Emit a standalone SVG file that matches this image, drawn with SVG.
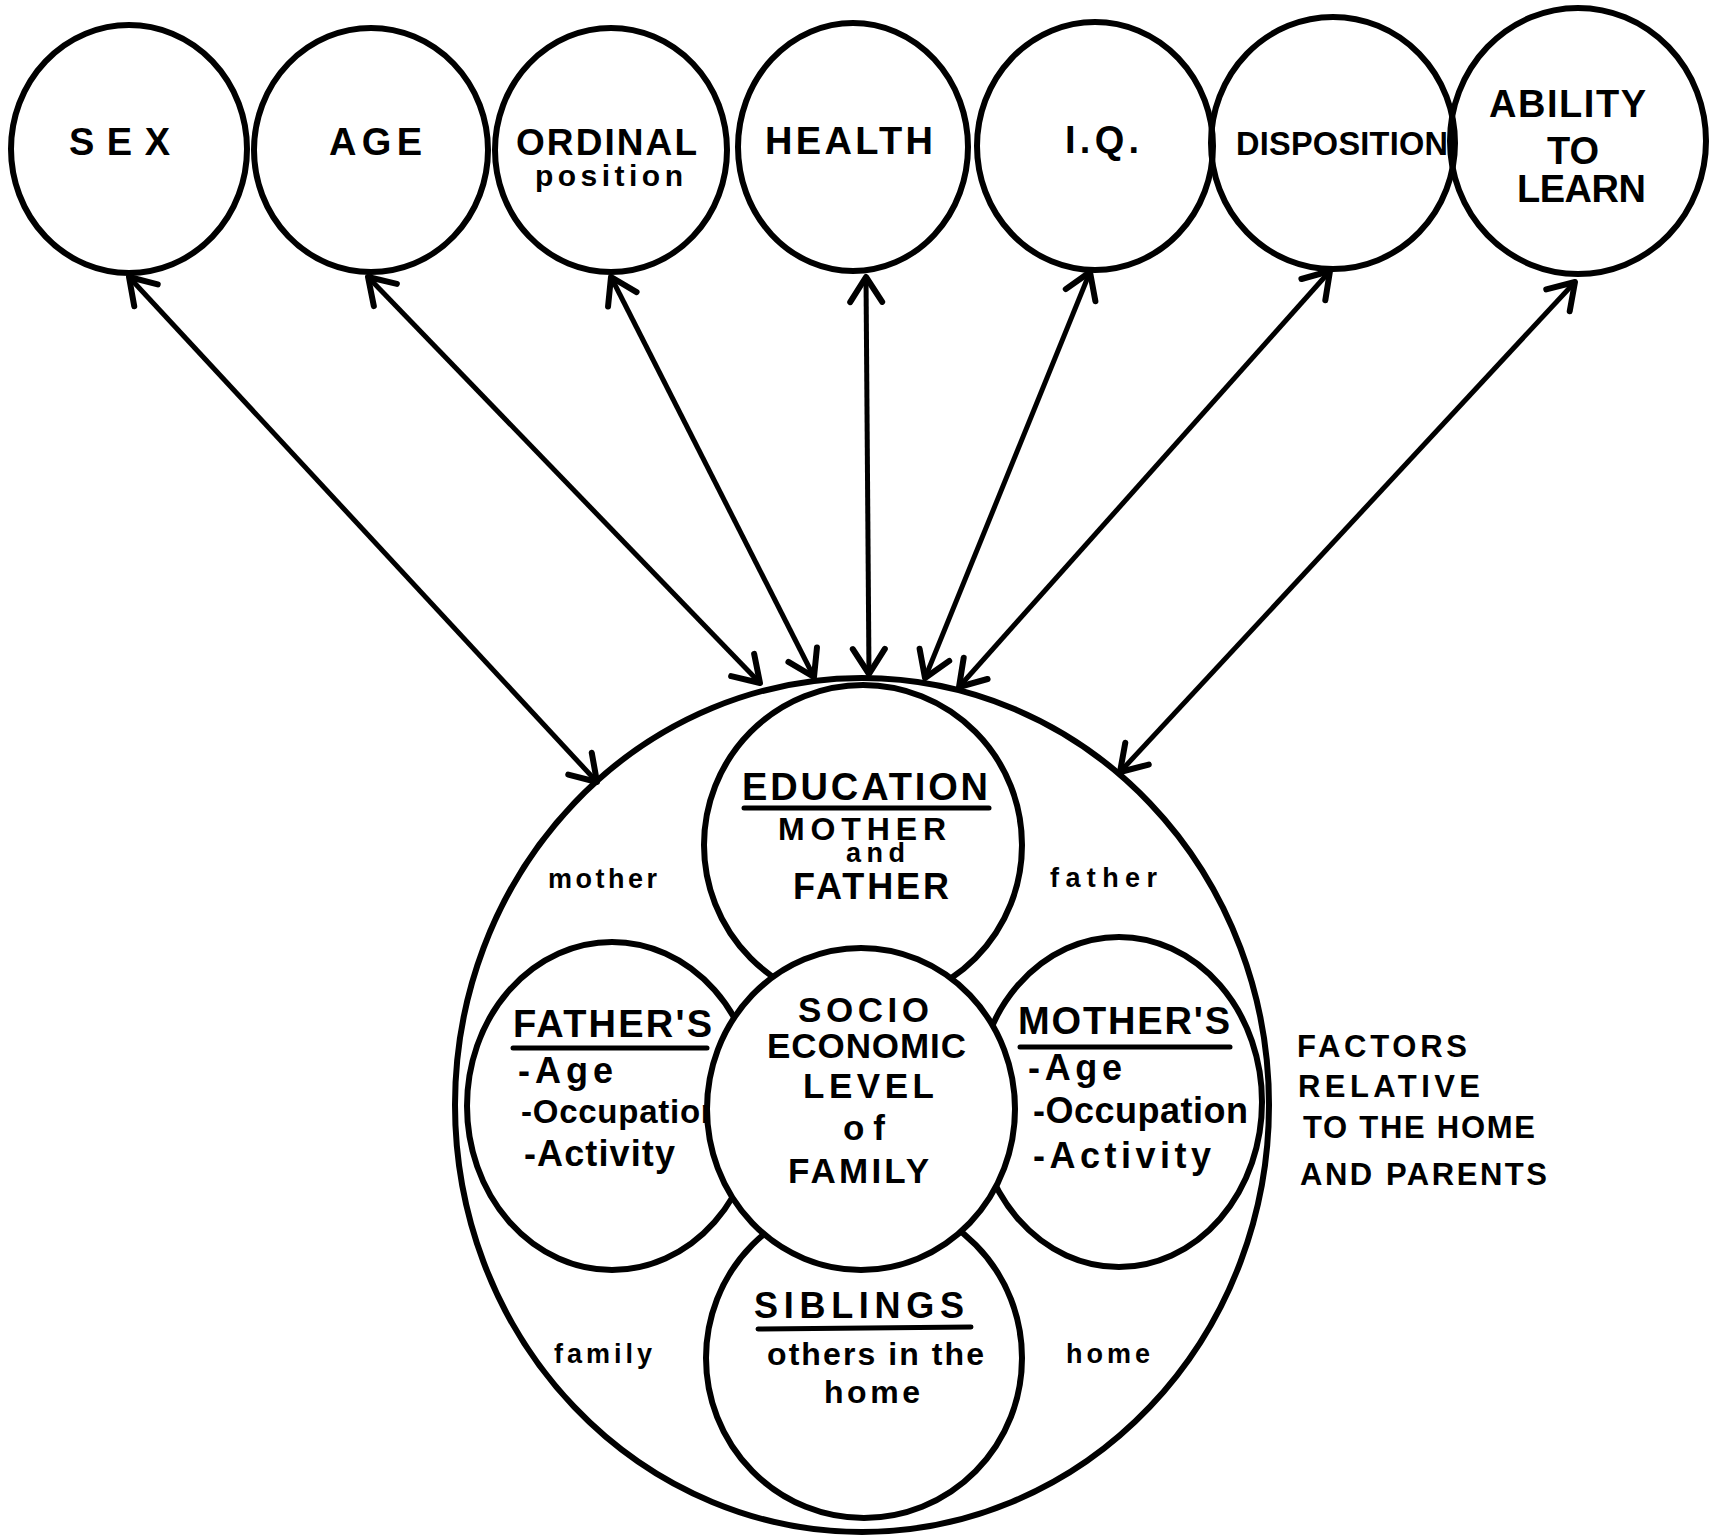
<svg xmlns="http://www.w3.org/2000/svg" width="1714" height="1535" viewBox="0 0 1714 1535">
<style>
.c{fill:none;stroke:#000;stroke-width:6}
.w{fill:#fff;stroke:#000;stroke-width:6}
.t{font-family:"Liberation Sans",Arial,sans-serif;font-weight:bold;fill:#000}
.u{stroke:#000;stroke-width:5;stroke-linecap:round}
.a{fill:none;stroke:#000;stroke-width:5;marker-start:url(#ah);marker-end:url(#ah)}
</style>
<defs>
<marker id="ah" viewBox="0 0 34 40" refX="30" refY="20" markerWidth="34" markerHeight="40" markerUnits="userSpaceOnUse" orient="auto-start-reverse">
<path d="M5,4 L30,20 L5,36" fill="none" stroke="#000" stroke-width="6" stroke-linecap="round" stroke-linejoin="round"/>
</marker>
</defs>
<rect width="1714" height="1535" fill="#fff"/>

<g id="sex">
<ellipse class="c" cx="129" cy="149" rx="118" ry="124"/>
<text class="t" x="69" y="155" font-size="38" textLength="101" lengthAdjust="spacing">SEX</text>
</g>
<g id="age">
<ellipse class="c" cx="371" cy="150" rx="117" ry="122"/>
<text class="t" x="329" y="155" font-size="38" textLength="93" lengthAdjust="spacing">AGE</text>
</g>
<g id="ordinal">
<ellipse class="c" cx="611" cy="150" rx="116" ry="122"/>
<text class="t" x="516" y="155" font-size="37" textLength="181" lengthAdjust="spacing">ORDINAL</text>
<text class="t" x="535" y="186" font-size="30" textLength="148" lengthAdjust="spacing">position</text>
</g>
<g id="health">
<ellipse class="c" cx="853" cy="147" rx="115" ry="124"/>
<text class="t" x="765" y="154" font-size="38" textLength="168" lengthAdjust="spacing">HEALTH</text>
</g>
<g id="iq">
<ellipse class="c" cx="1095" cy="146" rx="118" ry="124"/>
<text class="t" x="1065" y="153" font-size="38" textLength="74" lengthAdjust="spacing">I.Q.</text>
</g>
<g id="disposition">
<ellipse class="c" cx="1333" cy="143" rx="122" ry="126"/>
<text class="t" x="1236" y="155" font-size="32.5" textLength="212" lengthAdjust="spacing">DISPOSITION</text>
</g>
<g id="ability">
<ellipse class="c" cx="1578" cy="141" rx="128" ry="133"/>
<text class="t" x="1489" y="117" font-size="38" textLength="157" lengthAdjust="spacing">ABILITY</text>
<text class="t" x="1547" y="164" font-size="38" textLength="52" lengthAdjust="spacing">TO</text>
<text class="t" x="1517" y="202" font-size="38" textLength="129" lengthAdjust="spacing">LEARN</text>
</g>

<g id="home-parents">
<ellipse class="c" cx="862" cy="1105" rx="407" ry="427"/>
<text class="t" x="548" y="888" font-size="27" textLength="109" lengthAdjust="spacing">mother</text>
<text class="t" x="1050" y="887" font-size="27" textLength="107" lengthAdjust="spacing">father</text>
<text class="t" x="554" y="1363" font-size="27" textLength="98" lengthAdjust="spacing">family</text>
<text class="t" x="1066" y="1363" font-size="27" textLength="84" lengthAdjust="spacing">home</text>
<text class="t" x="1297" y="1057" font-size="31" textLength="170" lengthAdjust="spacing">FACTORS</text>
<text class="t" x="1298" y="1097" font-size="31" textLength="182" lengthAdjust="spacing">RELATIVE</text>
<text class="t" x="1303" y="1138" font-size="31" textLength="232" lengthAdjust="spacing">TO THE HOME</text>
<text class="t" x="1300" y="1185" font-size="31" textLength="247" lengthAdjust="spacing">AND PARENTS</text>
</g>

<g id="education">
<ellipse class="w" cx="863" cy="845" rx="159" ry="160"/>
<text class="t" x="742" y="800" font-size="38" textLength="246" lengthAdjust="spacing">EDUCATION</text>
<line class="u" x1="744" y1="808" x2="989" y2="808"/>
<text class="t" x="778" y="840" font-size="32" textLength="168" lengthAdjust="spacing">MOTHER</text>
<text class="t" x="846" y="862" font-size="27" textLength="59" lengthAdjust="spacing">and</text>
<text class="t" x="793" y="899" font-size="36" textLength="156" lengthAdjust="spacing">FATHER</text>
</g>

<g id="fathers">
<ellipse class="w" cx="612" cy="1106" rx="145" ry="164"/>
<text class="t" x="513" y="1037" font-size="38" textLength="199" lengthAdjust="spacing">FATHER'S</text>
<line class="u" x1="513" y1="1048" x2="707" y2="1048"/>
<text class="t" x="518" y="1083" font-size="36" textLength="95" lengthAdjust="spacing">-Age</text>
<text class="t" x="521" y="1123" font-size="33" textLength="200" lengthAdjust="spacing">-Occupation</text>
<text class="t" x="524" y="1166" font-size="36" textLength="151" lengthAdjust="spacing">-Activity</text>
</g>

<g id="mothers">
<ellipse class="w" cx="1119" cy="1102" rx="143" ry="165"/>
<text class="t" x="1018" y="1034" font-size="38" textLength="212" lengthAdjust="spacing">MOTHER'S</text>
<line class="u" x1="1020" y1="1047" x2="1230" y2="1047"/>
<text class="t" x="1028" y="1080" font-size="36" textLength="94" lengthAdjust="spacing">-Age</text>
<text class="t" x="1033" y="1123" font-size="36" textLength="215" lengthAdjust="spacing">-Occupation</text>
<text class="t" x="1033" y="1168" font-size="36" textLength="178" lengthAdjust="spacing">-Activity</text>
</g>

<g id="siblings">
<ellipse class="w" cx="864" cy="1358" rx="158" ry="160"/>
<text class="t" x="754" y="1318" font-size="36" textLength="210" lengthAdjust="spacing">SIBLINGS</text>
<line class="u" x1="758" y1="1329" x2="971" y2="1327" stroke-width="6"/>
<text class="t" x="767" y="1365" font-size="32" textLength="217" lengthAdjust="spacing">others in the</text>
<text class="t" x="824" y="1403" font-size="32" textLength="96" lengthAdjust="spacing">home</text>
</g>

<g id="socio">
<ellipse class="w" cx="861" cy="1109" rx="154" ry="161"/>
<text class="t" x="798" y="1022" font-size="35" textLength="131" lengthAdjust="spacing">SOCIO</text>
<text class="t" x="767" y="1058" font-size="35" textLength="199" lengthAdjust="spacing">ECONOMIC</text>
<text class="t" x="803" y="1098" font-size="35" textLength="131" lengthAdjust="spacing">LEVEL</text>
<text class="t" x="843" y="1140" font-size="35" textLength="42" lengthAdjust="spacing">of</text>
<text class="t" x="788" y="1183" font-size="35" textLength="141" lengthAdjust="spacing">FAMILY</text>
</g>

<g id="connectors">
<line class="a" x1="129" y1="277" x2="597" y2="782"/>
<line class="a" x1="368" y1="277" x2="760" y2="683"/>
<line class="a" x1="611" y1="277" x2="814" y2="677"/>
<line class="a" x1="866" y1="277" x2="869" y2="674"/>
<line class="a" x1="1090" y1="272" x2="925" y2="678"/>
<line class="a" x1="1330" y1="271" x2="959" y2="687"/>
<line class="a" x1="1575" y1="282" x2="1120" y2="772"/>
</g>
</svg>
